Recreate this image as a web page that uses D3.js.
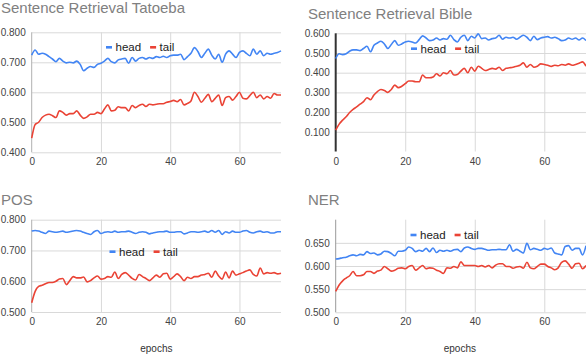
<!DOCTYPE html>
<html>
<head>
<meta charset="utf-8">
<script src="https://cdn.jsdelivr.net/npm/d3@7"></script>
<style>
  body { margin: 0; background: #fff; }
  svg { display: block; font-family: Arial, "Liberation Sans", sans-serif; }
</style>
</head>
<body>
<svg id="chart" width="586" height="354"></svg>
<script>
/* global d3 */

// ---------- data ----------
const epochs = d3.range(73)
const xTicks = [0, 20, 40, 60]

const tatoebaHead = [0.724, 0.741, 0.727, 0.730, 0.727, 0.719, 0.711, 0.702, 0.713, 0.704, 0.698, 0.700, 0.698, 0.704, 0.693, 0.672, 0.680, 0.686, 0.683, 0.693, 0.697, 0.704, 0.713, 0.702, 0.698, 0.708, 0.711, 0.713, 0.697, 0.716, 0.704, 0.713, 0.716, 0.711, 0.716, 0.713, 0.719, 0.716, 0.720, 0.716, 0.722, 0.724, 0.724, 0.727, 0.709, 0.719, 0.730, 0.749, 0.736, 0.716, 0.730, 0.744, 0.724, 0.711, 0.727, 0.700, 0.727, 0.738, 0.727, 0.716, 0.733, 0.738, 0.730, 0.722, 0.744, 0.727, 0.738, 0.722, 0.730, 0.727, 0.730, 0.733, 0.738]
const tatoebaTail = [0.447, 0.493, 0.500, 0.516, 0.524, 0.527, 0.522, 0.516, 0.538, 0.533, 0.524, 0.529, 0.529, 0.538, 0.524, 0.513, 0.518, 0.527, 0.527, 0.533, 0.529, 0.544, 0.558, 0.538, 0.540, 0.552, 0.549, 0.549, 0.538, 0.556, 0.549, 0.556, 0.560, 0.553, 0.560, 0.558, 0.560, 0.562, 0.562, 0.567, 0.569, 0.573, 0.569, 0.576, 0.558, 0.563, 0.571, 0.600, 0.586, 0.567, 0.580, 0.593, 0.569, 0.580, 0.591, 0.556, 0.582, 0.586, 0.574, 0.586, 0.600, 0.580, 0.578, 0.589, 0.600, 0.582, 0.591, 0.578, 0.586, 0.580, 0.596, 0.591, 0.591]
const tatoebaTicks = [0.4, 0.5, 0.6, 0.7, 0.8]

const bibleHead = [0.472, 0.496, 0.492, 0.496, 0.509, 0.516, 0.516, 0.512, 0.523, 0.534, 0.506, 0.539, 0.551, 0.560, 0.546, 0.523, 0.543, 0.563, 0.539, 0.546, 0.556, 0.560, 0.556, 0.551, 0.568, 0.587, 0.576, 0.563, 0.566, 0.576, 0.566, 0.573, 0.570, 0.590, 0.568, 0.556, 0.580, 0.590, 0.563, 0.585, 0.576, 0.597, 0.573, 0.576, 0.566, 0.573, 0.576, 0.590, 0.570, 0.580, 0.576, 0.580, 0.570, 0.580, 0.590, 0.580, 0.563, 0.585, 0.568, 0.576, 0.580, 0.583, 0.576, 0.580, 0.573, 0.563, 0.566, 0.576, 0.570, 0.576, 0.566, 0.576, 0.563]
const bibleTail = [0.108, 0.139, 0.159, 0.176, 0.198, 0.214, 0.226, 0.240, 0.253, 0.273, 0.263, 0.287, 0.304, 0.315, 0.310, 0.300, 0.315, 0.337, 0.324, 0.331, 0.344, 0.358, 0.358, 0.354, 0.354, 0.388, 0.374, 0.374, 0.378, 0.395, 0.383, 0.400, 0.395, 0.411, 0.388, 0.391, 0.408, 0.422, 0.400, 0.428, 0.408, 0.433, 0.422, 0.411, 0.416, 0.422, 0.418, 0.428, 0.411, 0.422, 0.425, 0.428, 0.433, 0.438, 0.450, 0.428, 0.442, 0.428, 0.433, 0.445, 0.442, 0.438, 0.432, 0.438, 0.435, 0.442, 0.438, 0.445, 0.438, 0.442, 0.448, 0.455, 0.433]
const bibleTicks = [0.1, 0.2, 0.3, 0.4, 0.5, 0.6]

const posHead = [0.763, 0.765, 0.763, 0.759, 0.755, 0.763, 0.761, 0.759, 0.761, 0.763, 0.759, 0.761, 0.763, 0.765, 0.763, 0.759, 0.755, 0.752, 0.761, 0.765, 0.755, 0.759, 0.761, 0.759, 0.763, 0.759, 0.761, 0.761, 0.763, 0.759, 0.755, 0.759, 0.761, 0.759, 0.754, 0.757, 0.759, 0.761, 0.761, 0.763, 0.759, 0.759, 0.761, 0.761, 0.754, 0.757, 0.761, 0.761, 0.759, 0.761, 0.763, 0.759, 0.765, 0.759, 0.765, 0.752, 0.761, 0.757, 0.763, 0.759, 0.759, 0.763, 0.765, 0.759, 0.757, 0.761, 0.763, 0.759, 0.761, 0.757, 0.757, 0.761, 0.761]
const posTail = [0.530, 0.567, 0.583, 0.587, 0.592, 0.596, 0.596, 0.600, 0.607, 0.609, 0.589, 0.602, 0.615, 0.611, 0.611, 0.614, 0.598, 0.602, 0.611, 0.617, 0.607, 0.609, 0.615, 0.613, 0.630, 0.609, 0.622, 0.628, 0.620, 0.609, 0.604, 0.622, 0.615, 0.609, 0.602, 0.611, 0.620, 0.613, 0.624, 0.626, 0.607, 0.615, 0.624, 0.615, 0.602, 0.613, 0.609, 0.615, 0.615, 0.620, 0.622, 0.626, 0.613, 0.633, 0.617, 0.607, 0.630, 0.611, 0.633, 0.620, 0.624, 0.628, 0.633, 0.637, 0.622, 0.617, 0.643, 0.624, 0.628, 0.626, 0.628, 0.624, 0.626]
const posTicks = [0.5, 0.6, 0.7, 0.8]

const nerHead = [0.615, 0.616, 0.618, 0.619, 0.622, 0.624, 0.622, 0.625, 0.624, 0.631, 0.627, 0.628, 0.624, 0.626, 0.632, 0.631, 0.627, 0.622, 0.632, 0.632, 0.634, 0.641, 0.638, 0.631, 0.634, 0.632, 0.638, 0.631, 0.639, 0.629, 0.634, 0.632, 0.634, 0.632, 0.635, 0.636, 0.631, 0.639, 0.641, 0.638, 0.636, 0.638, 0.638, 0.636, 0.634, 0.635, 0.635, 0.636, 0.635, 0.635, 0.646, 0.632, 0.636, 0.632, 0.628, 0.649, 0.635, 0.638, 0.636, 0.634, 0.638, 0.636, 0.639, 0.628, 0.626, 0.624, 0.642, 0.644, 0.634, 0.638, 0.638, 0.624, 0.644]
const nerTail = [0.545, 0.559, 0.568, 0.574, 0.579, 0.588, 0.579, 0.579, 0.581, 0.588, 0.588, 0.584, 0.589, 0.591, 0.599, 0.594, 0.589, 0.591, 0.595, 0.596, 0.594, 0.599, 0.601, 0.591, 0.596, 0.601, 0.594, 0.596, 0.595, 0.591, 0.588, 0.584, 0.596, 0.595, 0.599, 0.596, 0.609, 0.601, 0.601, 0.601, 0.601, 0.599, 0.601, 0.598, 0.601, 0.596, 0.602, 0.605, 0.605, 0.599, 0.599, 0.595, 0.598, 0.599, 0.595, 0.608, 0.596, 0.594, 0.599, 0.604, 0.604, 0.599, 0.596, 0.592, 0.596, 0.608, 0.611, 0.604, 0.595, 0.605, 0.606, 0.594, 0.601]
const nerTicks = [0.5, 0.55, 0.6, 0.65]

const seriesNames = ['head', 'tail']
const colors = { head: '#4285f4', tail: '#ea4335' }

// ---------- layout of the four panels ----------
const panels = [
  { title: 'Sentence Retrieval Tatoeba', head: tatoebaHead, tail: tatoebaTail, ticks: tatoebaTicks,
    yDomain: [0.4, 0.8], left: 31.7, right: 281, top: 32.3, bottom: 152.3,
    titleX: 1, titleY: 12.8, legendX: 106, legendY: 47.3, axisColor: '#b0b0b0', xLabel: false },
  { title: 'Sentence Retrieval Bible', head: bibleHead, tail: bibleTail, ticks: bibleTicks,
    yDomain: [0, 0.6], left: 335.7, right: 586, top: 33.3, bottom: 151.5,
    titleX: 308, titleY: 18.5, legendX: 411, legendY: 48.7, axisColor: '#333', axisWidth: 2, xLabel: false },
  { title: 'POS', head: posHead, tail: posTail, ticks: posTicks,
    yDomain: [0.5, 0.8], left: 31.7, right: 281, top: 219.7, bottom: 312,
    titleX: 1, titleY: 204.5, legendX: 109.5, legendY: 251.7, axisColor: '#b0b0b0', xLabel: true },
  { title: 'NER', head: nerHead, tail: nerTail, ticks: nerTicks,
    yDomain: [0.5, 0.7], left: 335.7, right: 586, top: 219.7, bottom: 312.3,
    titleX: 308, titleY: 204.5, legendX: 410.5, legendY: 235, axisColor: '#999', xLabel: true }
]

const svg = d3.select('#chart')
const fmt = d3.format('.3f')

function drawPanel (p) {
  const x = d3.scaleLinear().domain([0, 72]).range([p.left, p.right])
  const y = d3.scaleLinear().domain(p.yDomain).range([p.bottom, p.top])
  const g = svg.append('g')

  // horizontal grid + y labels
  const yAxis = d3.axisLeft(y)
    .tickValues(p.ticks)
    .tickSize(-(p.right - p.left))
    .tickPadding(6)
    .tickFormat(fmt)
  g.append('g')
    .attr('transform', `translate(${p.left},0)`)
    .call(yAxis)
    .call(a => a.select('.domain').remove())
    .call(a => a.selectAll('line').attr('stroke', '#d9d9d9'))
    .call(a => a.selectAll('text').attr('fill', '#444').attr('font-size', 10))

  // vertical grid + x labels
  const xAxis = d3.axisBottom(x)
    .tickValues(xTicks)
    .tickSize(-(p.bottom - p.top))
    .tickPadding(6)
    .tickFormat(d3.format('d'))
  g.append('g')
    .attr('transform', `translate(0,${p.bottom})`)
    .call(xAxis)
    .call(a => a.select('.domain').remove())
    .call(a => a.selectAll('line').attr('stroke', d => d === 0 ? 'none' : '#d9d9d9'))
    .call(a => a.selectAll('text').attr('fill', '#444').attr('font-size', 10))

  // baseline at epoch 0
  g.append('line')
    .attr('x1', x(0)).attr('x2', x(0))
    .attr('y1', p.top).attr('y2', p.bottom)
    .attr('stroke', p.axisColor)
    .attr('stroke-width', p.axisWidth || 1)

  // lines
  const line = d3.line()
    .x((d, i) => x(epochs[i]))
    .y(d => y(d))
    .curve(d3.curveMonotoneX)
  seriesNames.forEach(name => {
    g.append('path')
      .attr('d', line(p[name]))
      .attr('fill', 'none')
      .attr('stroke', colors[name])
      .attr('stroke-width', 1.6)
      .attr('stroke-linejoin', 'round')
  })

  // title
  g.append('text')
    .attr('x', p.titleX).attr('y', p.titleY)
    .attr('fill', '#808080')
    .attr('font-size', 15)
    .text(p.title)

  // legend
  let lx = p.legendX
  seriesNames.forEach(name => {
    g.append('rect')
      .attr('x', lx).attr('y', p.legendY - 1.3)
      .attr('width', 6).attr('height', 2.6)
      .attr('fill', colors[name])
    const t = g.append('text')
      .attr('x', lx + 9.5).attr('y', p.legendY + 4)
      .attr('fill', '#222')
      .attr('font-size', 11.5)
      .text(name)
    lx += 9.5 + t.node().getComputedTextLength() + 9
  })

  if (p.xLabel) {
    g.append('text')
      .attr('x', (p.left + p.right) / 2 + (p.left > 300 ? -1 : 0))
      .attr('y', 352)
      .attr('text-anchor', 'middle')
      .attr('fill', '#333')
      .attr('font-size', 10)
      .text('epochs')
  }
}

panels.forEach(drawPanel)
</script>
</body>
</html>
